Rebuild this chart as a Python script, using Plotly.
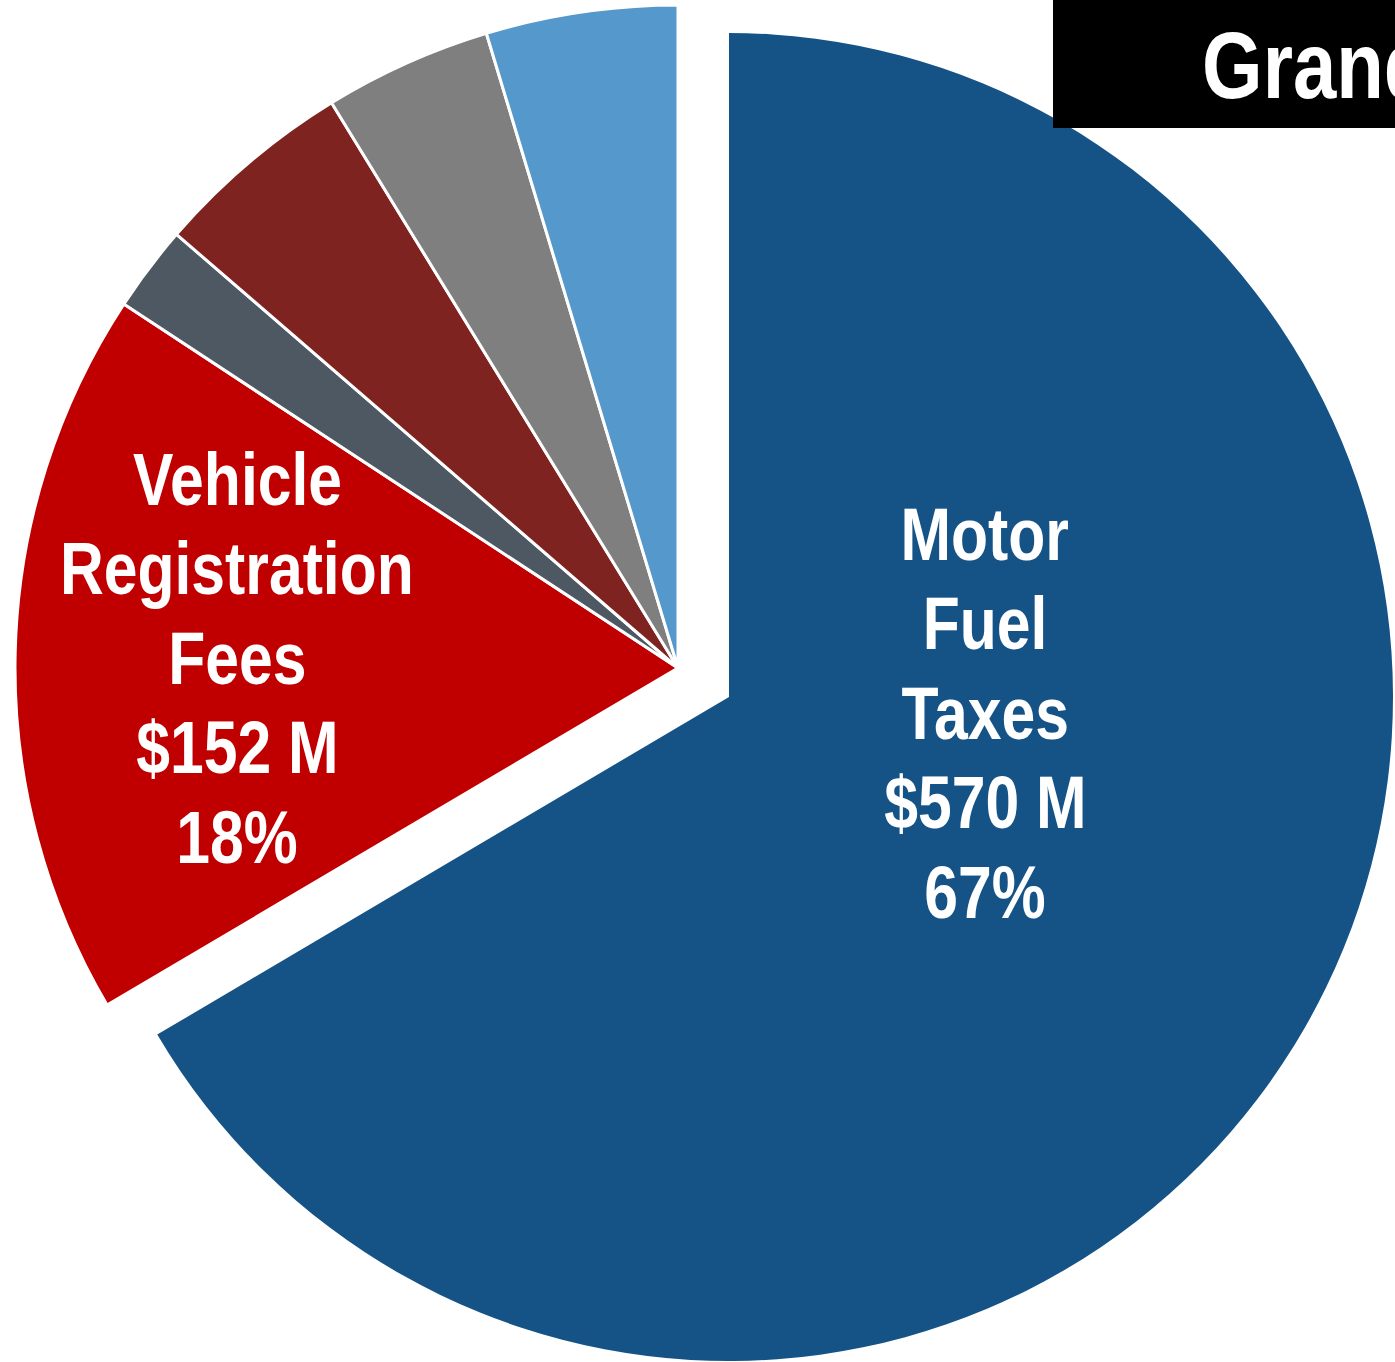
import plotly.graph_objects as go

# ---- data ----
categories = ["Motor Fuel Taxes", "Vehicle Registration Fees", "Other Fees",
              "Other Taxes", "Miscellaneous", "Federal & Other"]
label_lines = [["Motor", "Fuel", "Taxes"], ["Vehicle", "Registration", "Fees"],
               None, None, None, None]
values_musd = [570, 152, 18, 42, 35, 40]
colors = ["#155387", "#C00000", "#4E5862", "#7F2320", "#7F7F7F", "#5598CB"]
title_text = "Grand Total"

# ---- layout constants ----
W, H = 1395, 1362
FONT = "Liberation Sans, Arial, sans-serif"
base_center, base_r = (678, 668), 663      # un-pulled slices
pull_center, pull_r = (729, 697), 664      # exploded slice
pulled_index = 0
text_blocks = {0: (985, 560), 1: (237, 505)}   # center x, first baseline (px)
line_gap = 89.5
label_size = 74
title_size = 95

def domain(c, r):
    cx, cy = c
    return dict(x=[(cx - r) / W, (cx + r) / W],
                y=[(H - cy - r) / H, (H - cy + r) / H])

n = len(values_musd)
transparent = "rgba(0,0,0,0)"

colsA = [transparent if i == pulled_index else colors[i] for i in range(n)]
lineA = [transparent if i == pulled_index else "white" for i in range(n)]
colsB = [colors[i] if i == pulled_index else transparent for i in range(n)]
lwB = [0] * n

fig = go.Figure()
fig.add_trace(go.Pie(labels=categories, values=values_musd, sort=False,
                     direction="clockwise", rotation=0,
                     marker=dict(colors=colsA, line=dict(color=lineA, width=3)),
                     textinfo="none", hoverinfo="label+value+percent",
                     domain=domain(base_center, base_r), showlegend=False))
fig.add_trace(go.Pie(labels=categories, values=values_musd, sort=False,
                     direction="clockwise", rotation=0,
                     marker=dict(colors=colsB, line=dict(color="white", width=lwB)),
                     textinfo="none", hoverinfo="skip",
                     domain=domain(pull_center, pull_r), showlegend=False))

total = sum(values_musd)
annotations = []
for i, (cx, b0) in text_blocks.items():
    lines = list(label_lines[i]) + [f"${values_musd[i]} M",
                                    f"{round(100 * values_musd[i] / total)}%"]
    for k, t in enumerate(lines):
        base = b0 + k * line_gap
        yc = base - 0.3465 * label_size
        annotations.append(dict(text=t, x=cx / W, y=1 - yc / H, xref="paper", yref="paper",
                                xanchor="center", yanchor="middle", showarrow=False,
                                font=dict(family=FONT, size=label_size, color="white",
                                          weight="bold")))

# Title box (clipped at the right edge, as in the reference)
title_idx = len(annotations)
annotations.append(dict(text=f"{title_text}: ${total} M", x=1200 / W,
                        y=1 - (98 - 0.3465 * title_size) / H,
                        xref="paper", yref="paper", xanchor="left", yanchor="middle",
                        showarrow=False,
                        font=dict(family=FONT, size=title_size, color="white", weight="bold")))

fig.update_layout(
    width=W, height=H, margin=dict(l=0, r=0, t=0, b=0),
    paper_bgcolor="white", plot_bgcolor="white",
    shapes=[dict(type="rect", xref="paper", yref="paper", x0=1053 / W, x1=1.3,
                 y0=1 - 128 / H, y1=1.1, fillcolor="black", line=dict(width=0),
                 layer="above")],
    annotations=annotations,
)

# page margin reset + narrow (condensed) look for the bold labels
post = """
document.body.style.margin = '0';
var gd = document.getElementById('{plot_id}');
gd.querySelectorAll('g.annotation').forEach(function(g) {
  var t = g.querySelector('text.annotation-text');
  if (!t) return;
  t.style.transformBox = 'fill-box';
  t.style.transformOrigin = (g.getAttribute('data-index') == '%d') ? 'left center' : 'center';
  t.style.transform = 'scaleX(0.82)';
});
""" % title_idx

fig.write_html("out.html", post_script=post, config={"displayModeBar": False})
